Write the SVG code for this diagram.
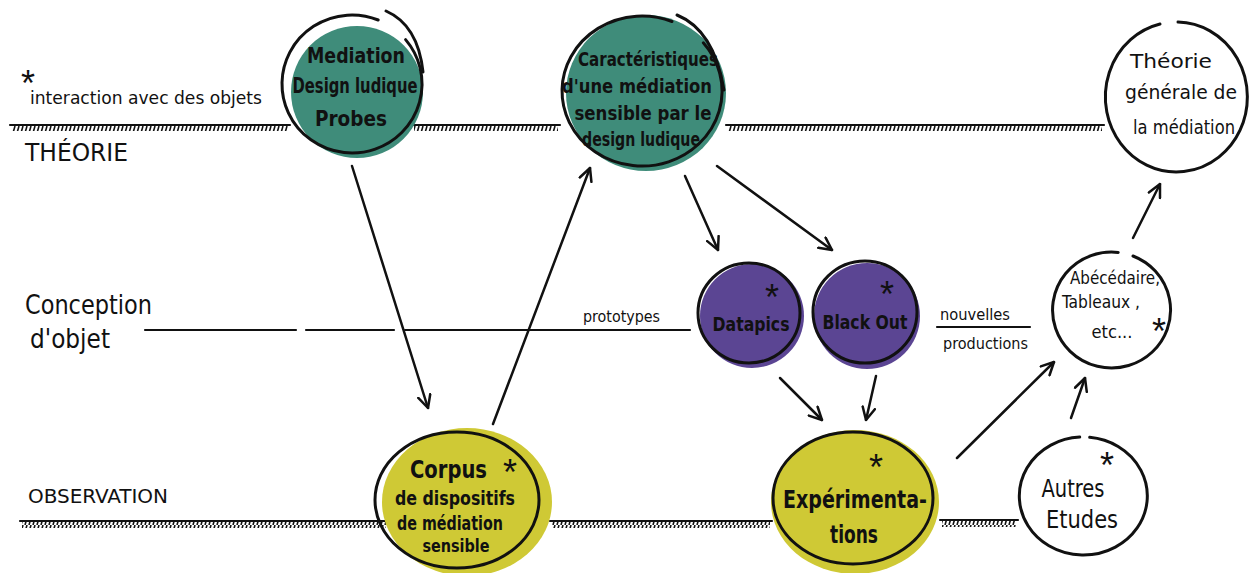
<svg xmlns="http://www.w3.org/2000/svg" width="1255" height="573" viewBox="0 0 1255 573">
<style>
.t{font-family:"Liberation Sans Narrow","DejaVu Sans Condensed","Liberation Sans",sans-serif;fill:#111;}
.b{font-weight:bold;}
.c{text-anchor:middle;}
.s{font-family:"Liberation Sans",sans-serif;font-size:36px;text-anchor:middle;fill:#111;}
.ol{fill:none;stroke:#111;stroke-width:3;stroke-linecap:round;}
.ln{stroke:#111;stroke-width:2.2;fill:none;stroke-linecap:round;}
.ar{stroke:#111;stroke-width:2.5;fill:none;stroke-linecap:round;marker-end:url(#ah);}
</style>
<defs>
<marker id="ah" viewBox="0 0 12 12" refX="11" refY="6" markerWidth="6" markerHeight="6" orient="auto" markerUnits="strokeWidth">
<path d="M1,1 L11,6 L1,11" fill="none" stroke="#111" stroke-width="2" stroke-linecap="round" stroke-linejoin="round"/>
</marker>
<pattern id="hatch" width="4" height="7" patternUnits="userSpaceOnUse">
<line x1="1" y1="7" x2="3" y2="0" stroke="#111" stroke-width="1.6"/>
</pattern>
</defs>

<g id="axes">
<line class="ln" x1="10" y1="125" x2="290" y2="125"/><rect x="12" y="125" width="276" height="6" fill="url(#hatch)"/>
<line class="ln" x1="412" y1="125" x2="560" y2="125"/><rect x="414" y="125" width="144" height="6" fill="url(#hatch)"/>
<line class="ln" x1="726" y1="125" x2="1104" y2="125"/><rect x="728" y="125" width="374" height="6" fill="url(#hatch)"/>
<line class="ln" x1="20" y1="521" x2="388" y2="521"/><rect x="22" y="521" width="364" height="7" fill="url(#hatch)"/>
<line class="ln" x1="550" y1="521" x2="772" y2="521"/><rect x="552" y="521" width="218" height="7" fill="url(#hatch)"/>
<line class="ln" x1="940" y1="520" x2="1018" y2="520"/><rect x="942" y="520" width="74" height="7" fill="url(#hatch)"/>
<line class="ln" x1="145" y1="330" x2="296" y2="330"/>
<line class="ln" x1="306" y1="330" x2="394" y2="330"/>
<line class="ln" x1="405" y1="330" x2="690" y2="330"/>
<line class="ln" x1="937" y1="327" x2="1030" y2="327"/>
</g>

<g id="labels">
<text class="s" x="28" y="96">*</text>
<text class="t" x="30" y="104" font-size="18" textLength="232" lengthAdjust="spacingAndGlyphs">interaction avec des objets</text>
<text class="t" x="25" y="161" font-size="24" textLength="103" lengthAdjust="spacingAndGlyphs">THÉORIE</text>
<text class="t" x="25" y="314" font-size="26" textLength="127" lengthAdjust="spacingAndGlyphs">Conception</text>
<text class="t" x="30" y="348" font-size="26" textLength="80" lengthAdjust="spacingAndGlyphs">d'objet</text>
<text class="t" x="28" y="503" font-size="20" textLength="140" lengthAdjust="spacingAndGlyphs">OBSERVATION</text>
<text class="t" x="583" y="322" font-size="16" textLength="77" lengthAdjust="spacingAndGlyphs">prototypes</text>
<text class="t" x="940" y="320" font-size="16" textLength="70" lengthAdjust="spacingAndGlyphs">nouvelles</text>
<text class="t" x="943" y="349" font-size="16" textLength="85" lengthAdjust="spacingAndGlyphs">productions</text>
</g>

<g id="n-mediation">
<circle cx="357" cy="92" r="66" fill="#3f8c7a"/>
<path class="ol" d="M405.6,39.6 A70,69 0 1 1 378.2,20"/>
<path class="ol" d="M386,11 Q418,25 423,72"/>
<text class="t b c" x="356" y="63" font-size="22" textLength="98" lengthAdjust="spacingAndGlyphs">Mediation</text>
<text class="t b c" x="355" y="93" font-size="22" textLength="125" lengthAdjust="spacingAndGlyphs">Design ludique</text>
<text class="t b c" x="351" y="126" font-size="22" textLength="72" lengthAdjust="spacingAndGlyphs">Probes</text>
</g>

<g id="n-carac">
<ellipse cx="646" cy="93" rx="80" ry="78" fill="#3f8c7a"/>
<path class="ol" d="M703.3,42.8 A80,75 0 1 1 672,21.5"/>
<path class="ol" d="M677,15 Q714,30 724,90"/>
<text class="t b c" x="648" y="66" font-size="19" textLength="140" lengthAdjust="spacingAndGlyphs">Caractéristiques</text>
<text class="t b c" x="637" y="93" font-size="19" textLength="150" lengthAdjust="spacingAndGlyphs">d'une médiation</text>
<text class="t b c" x="643" y="120" font-size="19" textLength="137" lengthAdjust="spacingAndGlyphs">sensible par le</text>
<text class="t b c" x="641" y="146" font-size="19" textLength="118" lengthAdjust="spacingAndGlyphs">design ludique</text>
</g>

<g id="n-theorie">
<path class="ol" d="M1178,22 A71,75 0 1 1 1160,24"/>
<text class="t c" x="1171" y="68" font-size="20" textLength="82" lengthAdjust="spacingAndGlyphs">Théorie</text>
<text class="t c" x="1181" y="99" font-size="20" textLength="112" lengthAdjust="spacingAndGlyphs">générale de</text>
<text class="t c" x="1184" y="134" font-size="20" textLength="102" lengthAdjust="spacingAndGlyphs">la médiation</text>
</g>

<g id="n-datapics">
<circle cx="752" cy="316" r="52" fill="#5b4593"/>
<ellipse class="ol" cx="749" cy="313" rx="51" ry="50"/>
<text class="s" x="772" y="310">*</text>
<text class="t b c" x="751" y="331" font-size="19" textLength="77" lengthAdjust="spacingAndGlyphs">Datapics</text>
</g>

<g id="n-blackout">
<circle cx="867" cy="316" r="53" fill="#5b4593"/>
<ellipse class="ol" cx="865" cy="312" rx="52" ry="51"/>
<text class="s" x="887" y="307">*</text>
<text class="t b c" x="865" y="329" font-size="19" textLength="85" lengthAdjust="spacingAndGlyphs">Black Out</text>
</g>

<g id="n-abece">
<path class="ol" d="M1133,256 A59,58 0 1 1 1118.2,252.4"/>
<text class="t c" x="1115" y="284" font-size="17" textLength="90" lengthAdjust="spacingAndGlyphs">Abécédaire,</text>
<text class="t c" x="1101" y="308" font-size="17" textLength="78" lengthAdjust="spacingAndGlyphs">Tableaux ,</text>
<text class="t c" x="1112" y="338" font-size="17" textLength="41" lengthAdjust="spacingAndGlyphs">etc...</text>
<text class="s" x="1159" y="344">*</text>
</g>

<g id="n-autres">
<path class="ol" d="M1089.7,437.3 A64,59 0 1 1 1079.7,437.1"/>
<text class="s" x="1107" y="478">*</text>
<text class="t c" x="1073" y="497" font-size="24" textLength="63" lengthAdjust="spacingAndGlyphs">Autres</text>
<text class="t c" x="1082" y="528" font-size="24" textLength="72" lengthAdjust="spacingAndGlyphs">Etudes</text>
</g>

<g id="n-corpus">
<ellipse cx="467" cy="502" rx="85" ry="74" fill="#cfc935"/>
<ellipse class="ol" cx="457" cy="500" rx="82" ry="68"/>
<text class="t b" x="410" y="478" font-size="24" textLength="77" lengthAdjust="spacingAndGlyphs">Corpus</text>
<text class="s" x="510" y="485">*</text>
<text class="t b c" x="455" y="505" font-size="20" textLength="120" lengthAdjust="spacingAndGlyphs">de dispositifs</text>
<text class="t b c" x="450" y="530" font-size="20" textLength="106" lengthAdjust="spacingAndGlyphs">de médiation</text>
<text class="t b c" x="456" y="552" font-size="18" textLength="67" lengthAdjust="spacingAndGlyphs">sensible</text>
</g>

<g id="n-experim">
<ellipse cx="855" cy="502" rx="84" ry="72" fill="#cfc935"/>
<ellipse class="ol" cx="853" cy="498" rx="80" ry="66"/>
<text class="s" x="876" y="480">*</text>
<text class="t b c" x="855" y="508" font-size="25" textLength="144" lengthAdjust="spacingAndGlyphs">Expérimenta-</text>
<text class="t b c" x="854" y="543" font-size="25" textLength="48" lengthAdjust="spacingAndGlyphs">tions</text>
</g>

<g id="connectors">
<line class="ar" x1="352" y1="166" x2="428" y2="408"/>
<line class="ar" x1="493" y1="424" x2="590" y2="168"/>
<line class="ar" x1="685" y1="176" x2="718" y2="250"/>
<line class="ar" x1="717" y1="166" x2="832" y2="250"/>
<line class="ar" x1="780" y1="378" x2="822" y2="420"/>
<line class="ar" x1="876" y1="376" x2="866" y2="420"/>
<line class="ar" x1="957" y1="458" x2="1054" y2="362"/>
<line class="ar" x1="1071" y1="418" x2="1085" y2="378"/>
<line class="ar" x1="1133" y1="238" x2="1160" y2="184"/>
</g>
</svg>
